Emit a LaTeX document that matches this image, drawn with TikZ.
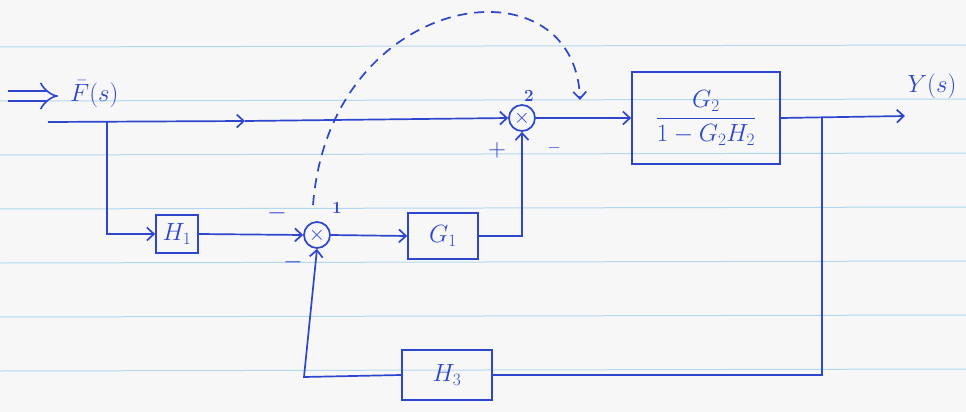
\documentclass[tikz,border=0pt]{standalone}
\usetikzlibrary{arrows.meta,calc}
\definecolor{ink}{RGB}{45,70,205}
\definecolor{rulec}{RGB}{178,216,240}
\definecolor{paper}{RGB}{247,247,247}
\begin{document}
\begin{tikzpicture}[x=1pt,y=-1pt,
  wire/.style={draw=ink,line width=1.7pt},
  arr/.style={wire,-{Straight Barb[length=7pt,width=13pt,line width=1.7pt]}},
  blk/.style={draw=ink,line width=1.7pt,rectangle,inner sep=0pt,text=ink,font=\fontsize{25}{30}\selectfont},
  sumj/.style={draw=ink,line width=1.7pt,circle,minimum size=26pt,inner sep=0pt,text=ink,font=\fontsize{22}{26}\selectfont},
  lbl/.style={text=ink,inner sep=0pt,font=\fontsize{24}{28}\selectfont}]
\fill[paper] (0,0) rectangle (966,412);
\useasboundingbox (0,0) rectangle (966,412);
\foreach \y in {47,101,155,209,263,317,371}
  \draw[rulec,line width=1pt] (0,\y) -- (966,\y-2);

% blocks and junctions
\node[blk,minimum width=42pt,minimum height=38pt,font=\fontsize{23}{27}\selectfont] (H1) at (177,234) {$H_1$};
\node[sumj] (S1) at (317,235) {$\times$};
\node[blk,minimum width=70pt,minimum height=46pt] (G1) at (443,236) {$G_1$};
\node[sumj] (S2) at (522,118) {$\times$};
\node[blk,minimum width=148pt,minimum height=92pt,font=\fontsize{24}{28}\selectfont] (G) at (706,118) {$\displaystyle\frac{G_2}{1-G_2H_2}$};
\node[blk,minimum width=90pt,minimum height=50pt] (H3) at (447,375) {$H_3$};

% labels
\node[lbl,anchor=west] (Fs) at (70,94) {$\bar{F}(s)$};
\node[lbl,font=\fontsize{28}{32}\selectfont] (Ys) at (932,86) {$Y(s)$};
\node[lbl,font=\fontsize{17}{20}\selectfont\bfseries] (n2) at (529,96) {2};
\node[lbl,font=\fontsize{17}{20}\selectfont\bfseries] (n1) at (337,208) {1};
\node[lbl,font=\fontsize{28}{32}\selectfont] (p2) at (497,150) {$+$};
\node[lbl,font=\fontsize{16}{18}\selectfont] (m2) at (554,148) {$-$};
\node[lbl] (m1a) at (277,213) {$-$};
\node[lbl] (m1b) at (293,262) {$-$};

% coordinates
\coordinate (d0) at (8,96);
\coordinate (d1) at (58,96);
\coordinate (in) at (48,122);
\coordinate (b1) at (107,122);
\coordinate (mid) at (245,121);
\coordinate (b2) at (822,118);
\coordinate (out) at (905,116);
\coordinate (c1) at (304,377);
\coordinate (da) at (313,205);
\coordinate (db) at (580,100);

% input double arrow
\draw[draw=ink,line width=1.6pt,double=paper,double distance=8pt,-{Implies}] (d0) -- (d1);

% connectors
\draw[arr] (in) -- (mid);
\draw[arr] (mid) -- (S2.west);
\draw[arr] (b1) |- (H1.west);
\draw[arr] (H1.east) -- (S1.west);
\draw[arr] (S1.east) -- (G1.west);
\draw[arr] (G1.east) -| (S2.south);
\draw[arr] (S2.east) -- (G.west);
\draw[arr] (G.east) -- (out);
\draw[wire] (b2) |- (H3.east);
\draw[arr] (H3.west) -- (c1) -- (S1.south);

% dashed arc
\draw[wire,dash pattern=on 10pt off 7pt,-{Straight Barb[length=7pt,width=13pt,line width=1.7pt]}]
  (da) .. controls (330,-10) and (575,-45) .. (db);
\end{tikzpicture}
\end{document}
